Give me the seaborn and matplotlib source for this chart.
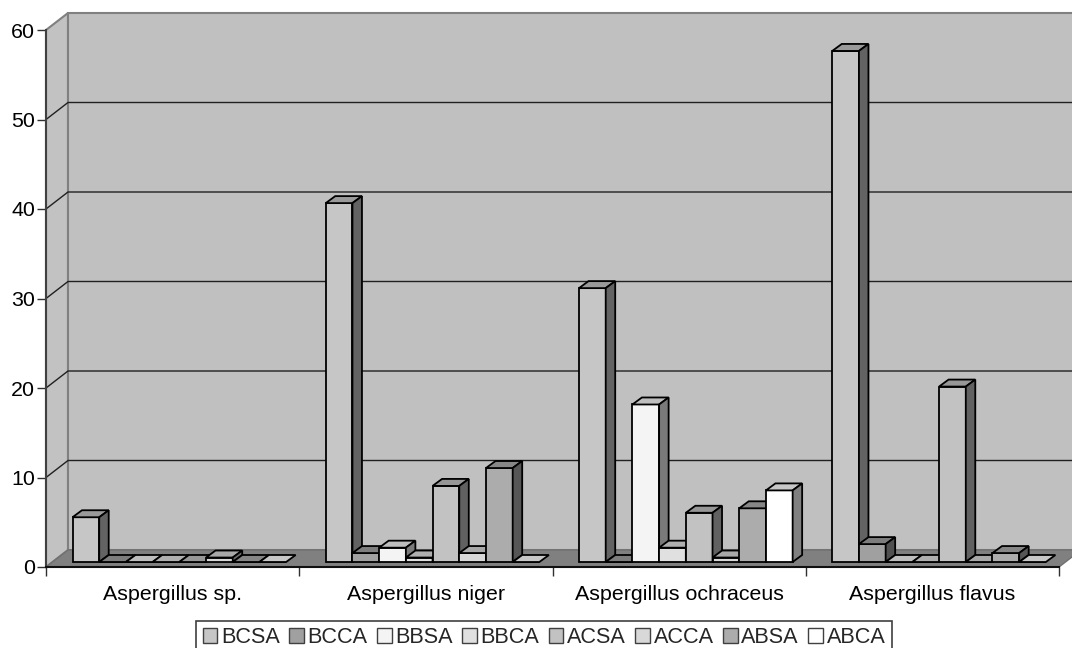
import matplotlib
matplotlib.use('Agg')
import matplotlib.pyplot as plt
import matplotlib.transforms as mtrans
from matplotlib.patches import Polygon
import pandas as pd
import seaborn as sns

species = ['Aspergillus sp.', 'Aspergillus niger', 'Aspergillus ochraceus', 'Aspergillus flavus']
media = ['BCSA', 'BCCA', 'BBSA', 'BBCA', 'ACSA', 'ACCA', 'ABSA', 'ABCA']
bcsa = [5.0, 40.1, 30.6, 57.1]
bcca = [0, 1.0, 0, 2.0]
bbsa = [0, 1.6, 17.6, 0]
bbca = [0, 0.5, 1.6, 0]
acsa = [0, 8.5, 5.5, 19.6]
acca = [0.5, 1.0, 0.5, 0]
absa = [0, 10.5, 6.0, 1.0]
abca = [0, 0, 8.0, 0]
colors = ['#c6c6c6', '#a0a0a0', '#f4f4f4', '#e0e0e0', '#c2c2c2', '#d8d8d8', '#acacac', '#ffffff']

rows = []
for name, vals in zip(media, [bcsa, bcca, bbsa, bbca, acsa, acca, absa, abca]):
    for sp, v in zip(species, vals):
        rows.append({'species': sp, 'medium': name, 'value': v})
df = pd.DataFrame(rows)

sns.set_style('white')
plt.rcParams['font.family'] = ['Liberation Sans', 'DejaVu Sans']

W, H = 1072, 648
fig = plt.figure(figsize=(W / 100, H / 100), dpi=100)
# axes = front plane of the fake 3D box
ax = fig.add_axes([46 / W, (H - 567) / H, 1013 / W, 537 / H])
ax.patch.set_visible(False)

sns.barplot(data=df, x='species', y='value', hue='medium', order=species, hue_order=media,
            palette=dict(zip(media, colors)), saturation=1, width=0.8436, gap=0,
            edgecolor='black', linewidth=1.3, errorbar=None, ax=ax)
ax.set_xlim(-0.5, 3.5)
ax.set_ylim(0, 60)
ax.set_xlabel('')
ax.set_ylabel('')
fig.canvas.draw()


def to_px(x, y, dx=0, dy=0):
    px, py = ax.transData.transform((x, y))
    return (px + dx, py + dy)


def add_poly(pts, **kw):
    ax.add_patch(Polygon(pts, closed=True, transform=mtrans.IdentityTransform(), clip_on=False, **kw))


# walls and floor
wall_dx, wall_dy = 22, 17
add_poly([to_px(-0.5, 0), to_px(-0.5, 0, wall_dx, wall_dy), to_px(-0.5, 60, wall_dx, wall_dy), to_px(-0.5, 60)],
         facecolor='#c2c2c2', edgecolor='#808080', linewidth=1.5, zorder=0)
add_poly([to_px(-0.5, 0, wall_dx, wall_dy), to_px(3.5, 0, wall_dx, wall_dy),
          to_px(3.5, 60, wall_dx, wall_dy), to_px(-0.5, 60, wall_dx, wall_dy)],
         facecolor='#c0c0c0', edgecolor='#808080', linewidth=1.5, zorder=0)
add_poly([to_px(-0.5, 0), to_px(3.5, 0), to_px(3.5, 0, wall_dx, wall_dy), to_px(-0.5, 0, wall_dx, wall_dy)],
         facecolor='#808080', edgecolor='#707070', linewidth=1, zorder=0.5)
for tick in [10, 20, 30, 40, 50]:
    pts = [to_px(-0.5, tick), to_px(-0.5, tick, wall_dx, wall_dy), to_px(3.5, tick, wall_dx, wall_dy)]
    ax.plot(*zip(*pts), transform=mtrans.IdentityTransform(), color='#202020', lw=1, clip_on=False, zorder=1)

# bars: move the seaborn fronts to mid depth and add top and side faces
bar_dx, bar_dy = 6.7, 5
depth_x, depth_y = 9.5, 7
bar_shift = mtrans.offset_copy(ax.transData, fig=fig, x=bar_dx, y=bar_dy, units='dots')
for i, container in enumerate(ax.containers):
    for j, bar in enumerate(container):
        z = 3 + j * 10 + i
        x0, x1, h = bar.get_x(), bar.get_x() + bar.get_width(), bar.get_height()
        shade = matplotlib.colors.to_rgb(colors[i])
        top = [c * 0.78 for c in shade]
        side = [c * 0.5 for c in shade]
        bar.set_transform(bar_shift)
        bar.set_clip_on(False)
        bar.set_zorder(z)
        edge = dict(edgecolor='black', linewidth=1.3, joinstyle='miter', zorder=z)
        add_poly([to_px(x0, h, bar_dx, bar_dy), to_px(x1, h, bar_dx, bar_dy),
                  to_px(x1, h, bar_dx + depth_x, bar_dy + depth_y), to_px(x0, h, bar_dx + depth_x, bar_dy + depth_y)],
                 facecolor=top, **edge)
        if h > 0:
            add_poly([to_px(x1, 0, bar_dx, bar_dy), to_px(x1, 0, bar_dx + depth_x, bar_dy + depth_y),
                      to_px(x1, h, bar_dx + depth_x, bar_dy + depth_y), to_px(x1, h, bar_dx, bar_dy)],
                     facecolor=side, **edge)

ax.set_yticks(range(0, 70, 10))
ax.set_xticks([-0.5, 0.5, 1.5, 2.5, 3.5], minor=True)
ax.tick_params(axis='y', which='major', left=True, length=6.5, width=1, color='#303030',
               labelsize=15.4, pad=1.5, labelcolor='black')
ax.tick_params(axis='x', which='major', bottom=False, labelsize=15.4, pad=9.5, labelcolor='black')
ax.tick_params(axis='x', which='minor', bottom=True, length=6.5, width=1, color='#303030')
sns.despine(ax=ax, top=True, right=True)
ax.spines['left'].set_color('#404040')
ax.spines['left'].set_linewidth(1.5)
ax.spines['bottom'].set_color('#101010')
ax.spines['bottom'].set_linewidth(1.5)

handles, labels = ax.get_legend_handles_labels()
# box runs off the bottom of the picture, as in the original
leg = ax.legend(handles, labels, ncol=8, loc='lower center', bbox_to_anchor=(544 / W, -6.5 / H),
                bbox_transform=fig.transFigure, fontsize=15.6, frameon=True, fancybox=False,
                edgecolor='#404040', framealpha=1, borderpad=0.3, borderaxespad=0,
                handlelength=0.68, handleheight=0.68, handletextpad=0.18, columnspacing=0.42, labelspacing=0)
leg.get_frame().set_linewidth(1.2)
for patch in leg.get_patches():
    patch.set_edgecolor('#404040')
    patch.set_linewidth(1)

fig.savefig('out.png', dpi=100, facecolor='white')
